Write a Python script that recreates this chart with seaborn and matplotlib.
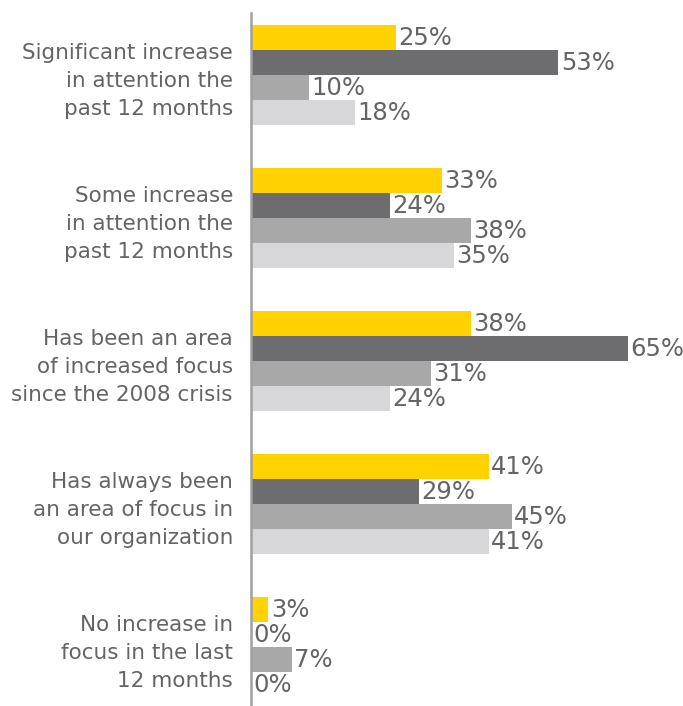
import pandas as pd
import numpy as np
import matplotlib
matplotlib.use('Agg')
import matplotlib.pyplot as plt
import seaborn as sns

# Chart data
categories = [
    'Significant increase\nin attention the\npast 12 months',
    'Some increase\nin attention the\npast 12 months',
    'Has been an area\nof increased focus\nsince the 2008 crisis',
    'Has always been\nan area of focus in\nour organization',
    'No increase in\nfocus in the last\n12 months',
]
series = ['Series 1', 'Series 2', 'Series 3', 'Series 4']
s1 = [25, 33, 38, 41, 3]
s2 = [53, 24, 65, 29, 0]
s3 = [10, 38, 31, 45, 7]
s4 = [18, 35, 24, 41, 0]
colors = ['#ffd200', '#6d6d6f', '#a8a8a8', '#d7d7d9']

rows = []
for name, vals in zip(series, [s1, s2, s3, s4]):
    for cat, v in zip(categories, vals):
        rows.append({'category': cat, 'series': name, 'value': v})
df = pd.DataFrame(rows)

sns.set_style('white')
plt.rcParams['font.family'] = ['DejaVu Sans']
text_color = '#646464'

fig = plt.figure(figsize=(6.83, 7.06), dpi=100)
ax = fig.add_axes([251 / 683, 0, 1 - 251 / 683, 693 / 706])

sns.barplot(data=df, y='category', x='value', hue='series', orient='h',
            palette=colors, width=0.7, saturation=1, linewidth=0,
            ax=ax, legend=False)

# value labels at the end of each bar
for cont in ax.containers:
    for bar in cont:
        w = bar.get_width()
        yc = bar.get_y() + bar.get_height() / 2
        ax.text(w + 0.4, yc, f'{int(round(w))}%', va='center', ha='left',
                fontsize=17.5, color=text_color)

ax.set_xlim(0, 74.5)
ax.set_ylim(4.41, -0.434)
ax.set_xlabel('')
ax.set_ylabel('')
ax.set_xticks([])
ax.tick_params(axis='y', length=0, pad=13, labelsize=15.5, labelcolor=text_color)
for lbl in ax.get_yticklabels():
    lbl.set_multialignment('right')
    lbl.set_linespacing(1.5)

for side in ['top', 'right', 'bottom']:
    ax.spines[side].set_visible(False)
ax.spines['left'].set_color('#a0a0a0')
ax.spines['left'].set_linewidth(1.8)

fig.savefig('out.png', dpi=100)
